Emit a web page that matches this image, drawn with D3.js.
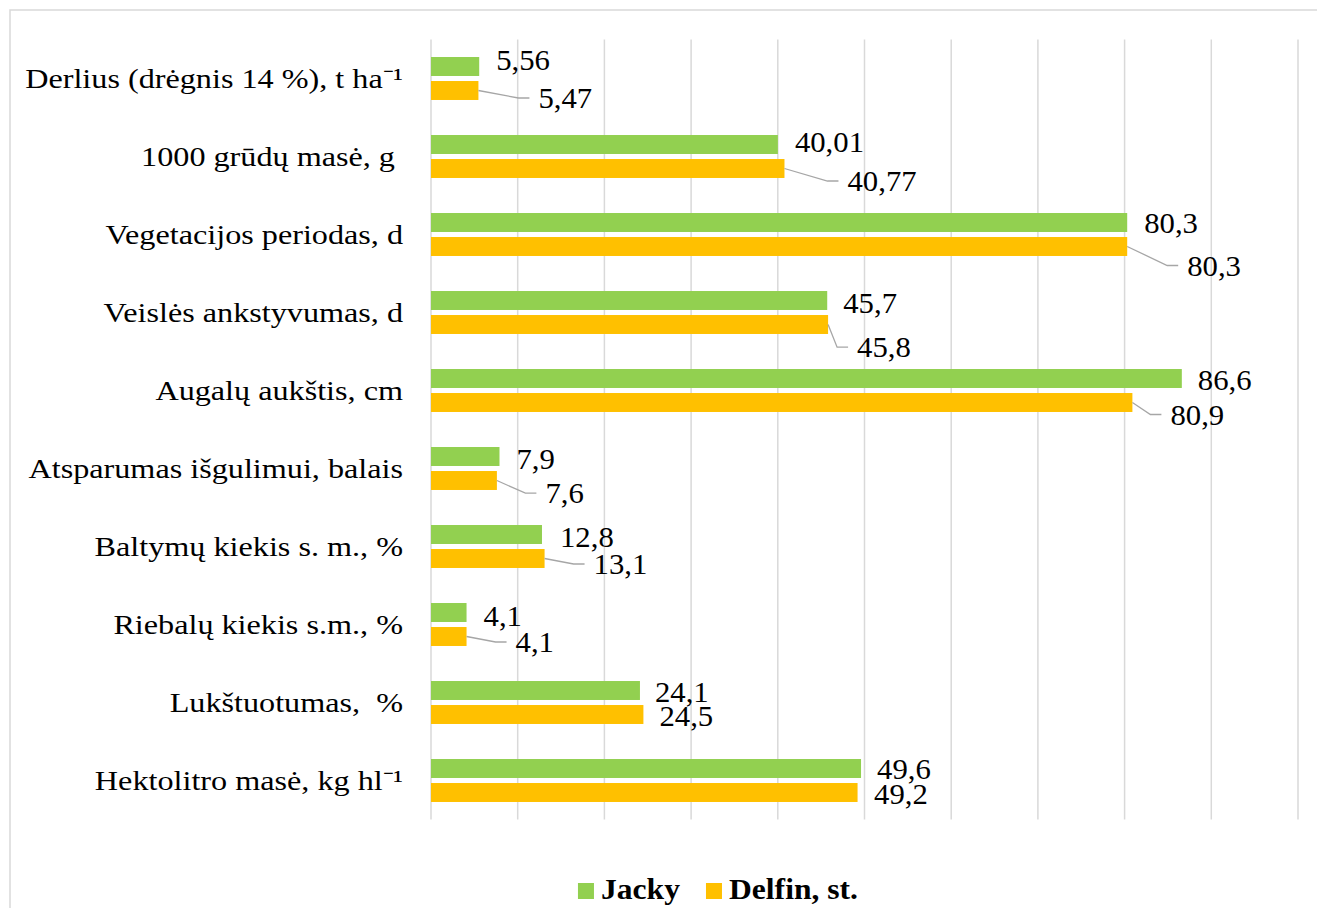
<!DOCTYPE html>
<html>
<head>
<meta charset="utf-8">
<script src="https://cdn.jsdelivr.net/npm/d3@7"></script>
<style>
  body { margin: 0; background: #fff; }
  text { font-family: "Liberation Serif", "Times New Roman", serif; fill: #000; white-space: pre; }
</style>
</head>
<body>
<svg id="chart" width="1317" height="908"></svg>
<script>
const categories = [
  "Derlius (drėgnis 14 %), t ha⁻¹",
  "1000 grūdų masė, g ",
  "Vegetacijos periodas, d",
  "Veislės ankstyvumas, d",
  "Augalų aukštis, cm",
  "Atsparumas išgulimui, balais",
  "Baltymų kiekis s. m., %",
  "Riebalų kiekis s.m., %",
  "Lukštuotumas,  %",
  "Hektolitro masė, kg hl⁻¹"
];
const jacky  = [5.56, 40.01, 80.3, 45.7, 86.6, 7.9, 12.8, 4.1, 24.1, 49.6];
const delfin = [5.47, 40.77, 80.3, 45.8, 80.9, 7.6, 13.1, 4.1, 24.5, 49.2];
const seriesNames = ["Jacky", "Delfin, st."];
const xTicks = [0, 10, 20, 30, 40, 50, 60, 70, 80, 90, 100];

// label nudges: [dx from bar end to text start, dy of text centre from bar centre]
const jackyNudge  = [[17,-6.5],[17,-3],[17,0],[16,2],[16,1],[17,2],[18,2],[17,3],[15,1],[16,0]];
const delfinNudge = [[60,7.5],[63,12.5],[60,19],[29,22.7],[38,12],[48.5,12.7],[49,5.5],[49,5.5],[16,1.5],[16.5,1.5]];

const green = "#92D050", orange = "#FFC000";
const colors = [green, orange];

const svg = d3.select("#chart");

// the original text is a bit wider than plain Times, so stretch it
function place(x, y, sx) {
  return "translate(" + x + "," + y + ") scale(" + sx + ",1)";
}

svg.append("rect")
  .attr("x", 10).attr("y", 10)
  .attr("width", 1340).attr("height", 940)
  .attr("fill", "#fff")
  .attr("stroke", "#d9d9d9")
  .attr("stroke-width", 1.5);

const x = d3.scaleLinear().domain([0, 100]).range([431, 1298]);
const y = d3.scaleBand().domain(categories).range([39.5, 819.5]);
const ySub = d3.scaleBand().domain(seriesNames).range([0, y.bandwidth()])
  .paddingInner(0.21).paddingOuter(0.73);

// gridlines
svg.append("g")
  .selectAll("line")
  .data(xTicks)
  .enter()
  .append("line")
  .attr("x1", d => x(d)).attr("x2", d => x(d))
  .attr("y1", 39.5).attr("y2", 819.5)
  .attr("stroke", "#d9d9d9")
  .attr("stroke-width", 1.5);

// category labels
svg.append("g")
  .selectAll("text")
  .data(categories)
  .enter()
  .append("text")
  .attr("transform", d => place(403, y(d) + y.bandwidth() / 2 + 9, 1.15))
  .attr("text-anchor", "end")
  .attr("font-size", 28)
  .text(d => d);

const rows = [];
categories.forEach(function(c, i) {
  rows.push({ cat: c, s: 0, v: jacky[i], nudge: jackyNudge[i] });
  rows.push({ cat: c, s: 1, v: delfin[i], nudge: delfinNudge[i] });
});

function barTop(d) { return y(d.cat) + ySub(seriesNames[d.s]); }
function barMid(d) { return barTop(d) + ySub.bandwidth() / 2; }

svg.append("g")
  .selectAll("rect")
  .data(rows)
  .enter()
  .append("rect")
  .attr("x", x(0))
  .attr("y", d => barTop(d))
  .attr("width", d => x(d.v) - x(0))
  .attr("height", ySub.bandwidth())
  .attr("fill", d => colors[d.s]);

// leader lines for labels moved away from their bar
svg.append("g")
  .selectAll("path")
  .data(rows.filter(d => d.nudge[0] > 25))
  .enter()
  .append("path")
  .attr("fill", "none")
  .attr("stroke", "#a6a6a6")
  .attr("stroke-width", 1.3)
  .attr("d", function(d) {
    const x0 = x(d.v), y0 = barMid(d);
    const lx = x0 + d.nudge[0], ly = y0 + d.nudge[1];
    return "M" + x0 + "," + y0 + "L" + (lx - 20) + "," + ly + "L" + (lx - 9) + "," + ly;
  });

svg.append("g")
  .selectAll("text")
  .data(rows)
  .enter()
  .append("text")
  .attr("transform", d => place(x(d.v) + d.nudge[0], barMid(d) + d.nudge[1] + 10, 1.06))
  .attr("font-size", 29)
  .text(d => String(d.v).replace(".", ","));

// legend
const legend = svg.append("g");
const legScale = 1.09;
let lx = 0;
seriesNames.forEach(function(name, i) {
  const g = legend.append("g").attr("transform", "translate(" + lx + ",0)");
  g.append("rect").attr("x", 0).attr("y", 883).attr("width", 16).attr("height", 16).attr("fill", colors[i]);
  const t = g.append("text").attr("transform", place(23, 899, legScale)).attr("font-size", 29)
    .attr("font-weight", "bold").text(name);
  lx += 23 + t.node().getComputedTextLength() * legScale + 26;
});
const legendWidth = lx - 26;
legend.attr("transform", "translate(" + (718 - legendWidth / 2) + ",0)");
</script>
</body>
</html>
